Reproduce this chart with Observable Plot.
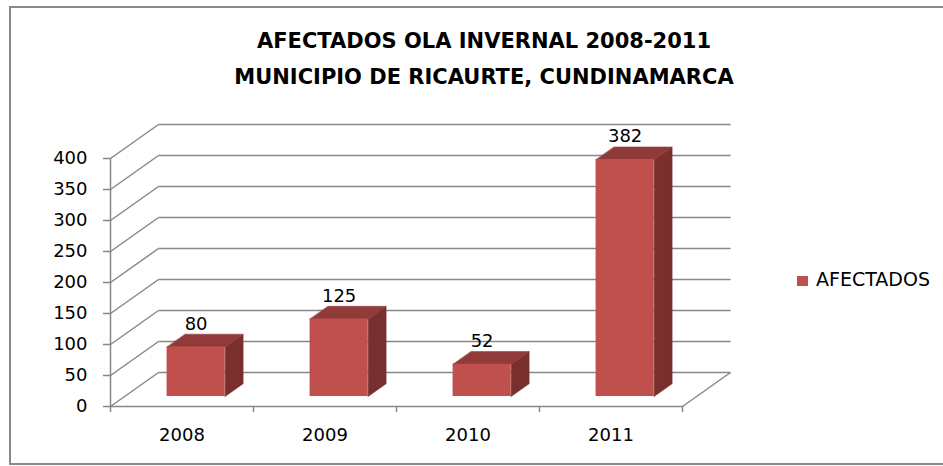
<!DOCTYPE html>
<html>
<head>
<meta charset="utf-8">
<script src="https://cdn.jsdelivr.net/npm/d3@7"></script>
<script src="https://cdn.jsdelivr.net/npm/@observablehq/plot@0.6"></script>
<style>
  body { margin: 0; background: #fff; }
  #wrap { position: relative; width: 943px; height: 466px; overflow: hidden; font-family: "DejaVu Sans", sans-serif; background: #fff; }
  #border { position: absolute; left: 9px; top: 6px; width: 980px; height: 459px; border: 2px solid #898989; border-right: none; box-sizing: border-box; }
  #title { position: absolute; left: 0; top: 23px; width: 968px; text-align: center; font-weight: bold; font-size: 21px; line-height: 36px; color: #000; }
  #chart { position: absolute; left: 0; top: 0; }
  #legend-swatch { position: absolute; left: 797px; top: 276px; width: 11px; height: 10px; background: #C0504D; }
  #legend-label { position: absolute; left: 816px; top: 270px; font-size: 19px; line-height: 19px; color: #000; white-space: nowrap; }
</style>
</head>
<body>
<div id="wrap">
  <div id="border"></div>
  <div id="chart"></div>
  <div id="title"></div>
  <div id="legend-swatch"></div>
  <div id="legend-label"></div>
</div>
<script>
// ---- data ----
const titleLines = ["AFECTADOS OLA INVERNAL 2008-2011", "MUNICIPIO DE RICAURTE, CUNDINAMARCA"];
const seriesName = "AFECTADOS";
const years = ["2008", "2009", "2010", "2011"];
const afectados = [80, 125, 52, 382];
const yTicks = [0, 50, 100, 150, 200, 250, 300, 350, 400];

// ---- 3D layout constants (depth of the box, in scale units) ----
const DX = 0.3357;   // depth shift along x (category units)
const DY = 54.84;    // depth shift along y (value units)
const F0 = 0.294;    // bar front plane (fraction of depth)
const F1 = 0.669;    // bar back plane
const HW = 0.203;    // half bar width (category units)
const GRID = "#878787";
const FRONT = "#C0504D", TOP = "#903B39", SIDE = "#782F2D";

const bars = years.map((year, i) => ({year, i, v: afectados[i], c: i + 0.5}));

const topPts = bars.flatMap(b => [
  {year: b.year, x: b.c - HW + F0 * DX, y: b.v + F0 * DY},
  {year: b.year, x: b.c + HW + F0 * DX, y: b.v + F0 * DY},
  {year: b.year, x: b.c + HW + F1 * DX, y: b.v + F1 * DY},
  {year: b.year, x: b.c - HW + F1 * DX, y: b.v + F1 * DY}
]);
const sidePts = bars.flatMap(b => [
  {year: b.year, x: b.c + HW + F0 * DX, y: F0 * DY},
  {year: b.year, x: b.c + HW + F1 * DX, y: F1 * DY},
  {year: b.year, x: b.c + HW + F1 * DX, y: b.v + F1 * DY},
  {year: b.year, x: b.c + HW + F0 * DX, y: b.v + F0 * DY}
]);

const n = years.length;

const chart = Plot.plot({
  width: 943,
  height: 466,
  marginLeft: 110,
  marginRight: 261,
  marginTop: 158,
  marginBottom: 60,
  style: {fontFamily: "DejaVu Sans, sans-serif", fontSize: "18px", background: "transparent", color: "#000"},
  x: {type: "linear", domain: [0, n], axis: null},
  y: {type: "linear", domain: [0, 400], axis: null},
  marks: [
    // back wall gridlines
    Plot.link(yTicks, {x1: () => DX, x2: () => n + DX, y1: v => v + DY, y2: v => v + DY, stroke: GRID, strokeWidth: 1.5}),
    // side wall diagonals
    Plot.link(yTicks, {x1: () => 0, y1: v => v, x2: () => DX, y2: v => v + DY, stroke: GRID, strokeWidth: 1.5}),
    // floor right edge
    Plot.link([0], {x1: () => n, y1: () => 0, x2: () => n + DX, y2: () => DY, stroke: GRID, strokeWidth: 1.5}),
    // front axis lines
    Plot.ruleX([0], {y1: 0, y2: 400, stroke: GRID, strokeWidth: 1.5}),
    Plot.ruleY([0], {x1: 0, x2: n, stroke: GRID, strokeWidth: 1.5}),
    Plot.axisY({ticks: yTicks, label: null, tickSize: 7, tickPadding: 16, fontSize: 18, stroke: GRID, fill: "#000", strokeWidth: 1.5, tickFormat: d => String(d)}),
    Plot.axisX({ticks: d3.range(n + 1), label: null, tickSize: 6, tickFormat: () => "", stroke: GRID, strokeWidth: 1.5}),
    Plot.axisX({ticks: bars.map(b => b.c), label: null, tickSize: 0, tickPadding: 22, fontSize: 18, fill: "#000", tickFormat: d => years[Math.floor(d)]}),
    // bars: side, top, front
    Plot.line(sidePts, {x: "x", y: "y", z: "year", curve: "linear-closed", fill: SIDE, stroke: SIDE, strokeWidth: 0.5}),
    Plot.line(topPts, {x: "x", y: "y", z: "year", curve: "linear-closed", fill: TOP, stroke: TOP, strokeWidth: 0.5}),
    Plot.rect(bars, {x1: b => b.c - HW + F0 * DX, x2: b => b.c + HW + F0 * DX, y1: () => F0 * DY, y2: b => b.v + F0 * DY, fill: FRONT}),
    // data labels
    Plot.text(bars, {x: b => b.c + F0 * DX, y: b => b.v + F0 * DY, dy: -23, text: b => String(b.v), fontSize: 18, fill: "#000"})
  ]
});

document.getElementById("chart").appendChild(chart);
document.getElementById("title").innerHTML = titleLines.join("<br>");
document.getElementById("legend-label").textContent = seriesName;
</script>
</body>
</html>
